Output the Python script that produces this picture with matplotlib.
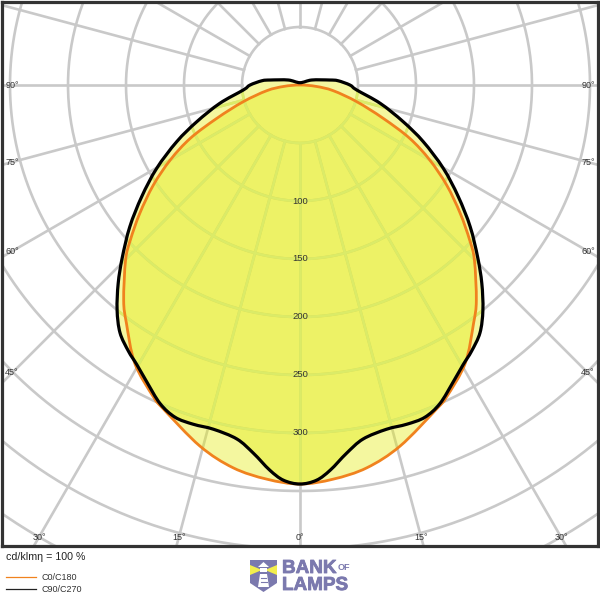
import matplotlib
matplotlib.use('Agg')
import matplotlib.pyplot as plt
import matplotlib.patheffects as pe
from matplotlib.path import Path
from matplotlib.patches import PathPatch, Polygon, Rectangle
import numpy as np

plt.rcParams['font.family'] = ['Liberation Sans', 'DejaVu Sans']

# C0/C180, gamma in degrees and cd/klm
gamma_c0 = [0, 4.8, 9.9, 15.5, 22.9, 25.2, 30.7, 36.1, 39.3, 44.9, 47.6, 51.3, 55.7, 60, 64.1, 68.2, 73.6, 80.3, 85, 90]
i_c0 = [344, 341, 335, 323, 303, 297, 279, 254, 240, 213, 198, 177, 153, 129, 105, 77, 51, 29, 14, 0]

# C90/C270
gamma_c90 = [0, 2.4, 4.5, 7.2, 10.1, 14.1, 17.5, 20.6, 23.7, 27.3, 30.3, 32.8, 36, 39.1, 42.5, 45.8, 50.2, 54.8,
             59.8, 65.3, 70.4, 77.1, 85, 90, 96.4, 99.5, 113, 180]
i_c90 = [344, 341, 333, 320, 310, 306, 306.6, 306, 300, 288, 279, 273, 264, 250, 232, 213.8, 191, 167,
         143, 117, 94.5, 71, 49, 43, 33, 26, 11, 2]

radii = [50, 100, 150, 200, 250, 300, 350, 400, 450, 500]
radial_labels = [100, 150, 200, 250, 300]
angle_labels = [0, 15, 30, 45, 60, 75, 90]

GRID = '#c9c9c9'
GRID_IN = '#dbeb68'
FILL = (228 / 255, 235 / 255, 17 / 255)
ORANGE = '#f0821e'
SCALE = 1.16  # pixels per cd/klm
CX, CY = 300, 85


def closed_curve(gamma, vals):
    g = np.radians(np.array(gamma, dtype=float))
    v = np.array(vals, dtype=float)
    x = v * np.sin(g)
    y = -v * np.cos(g)
    # mirror for the other half
    px = np.concatenate([x, -x[::-1][1:-1]])
    py = np.concatenate([y, y[::-1][1:-1]])
    pts = np.column_stack([px, py])
    n = len(pts)
    verts = [pts[0]]
    codes = [Path.MOVETO]
    for k in range(n):
        p0, p1, p2, p3 = pts[k - 1], pts[k], pts[(k + 1) % n], pts[(k + 2) % n]
        verts += [p1 + (p2 - p0) / 6, p2 - (p3 - p1) / 6, p2]
        codes += [Path.CURVE4] * 3
    return Path(verts, codes)


def draw_grid(ax, color, zorder, clip=None):
    t = np.linspace(0, 2 * np.pi, 500)
    lines = []
    for r in radii:
        lines += ax.plot(r * np.sin(t), r * np.cos(t), color=color, lw=1.9, zorder=zorder)
    for a in range(0, 360, 15):
        ar = np.radians(a)
        lines += ax.plot([50 * np.sin(ar), 700 * np.sin(ar)], [50 * np.cos(ar), 700 * np.cos(ar)],
                         color=color, lw=1.9, zorder=zorder)
    if clip is not None:
        for l in lines:
            l.set_clip_path(clip)


fig = plt.figure(figsize=(6, 6), dpi=100)

# main plot, frame is 2..598 and 2..546 in pixels
ax = fig.add_axes([2 / 600, 54 / 600, 596 / 600, 544 / 600])
ax.set_xlim((2 - CX) / SCALE, (598 - CX) / SCALE)
ax.set_ylim((CY - 546) / SCALE, (CY - 2) / SCALE)
ax.set_xticks([])
ax.set_yticks([])
for s in ax.spines.values():
    s.set_color('#333333')
    s.set_linewidth(2.3)

draw_grid(ax, GRID, 1)

path_c0 = closed_curve(gamma_c0, i_c0)
path_c90 = closed_curve(gamma_c90, i_c90)
ax.add_patch(PathPatch(path_c0, facecolor=FILL, alpha=0.4, edgecolor='none', zorder=2))
p90 = ax.add_patch(PathPatch(path_c90, facecolor=FILL, alpha=0.4, edgecolor='none', zorder=2))
# grid reads greenish and faint where both fills overlap
draw_grid(ax, GRID_IN, 2.5, clip=p90)
ax.add_patch(PathPatch(path_c0, facecolor='none', edgecolor=ORANGE, lw=2.0, joinstyle='round', zorder=3))
ax.add_patch(PathPatch(path_c90, facecolor='none', edgecolor='black', lw=2.3, joinstyle='round', zorder=4))

for v in radial_labels:
    ax.text(0, -v, str(v), ha='center', va='center', fontsize=6.8, color='#333333', zorder=5)

# angle labels sit on the inside of the frame
low = (CY - 537) / SCALE
side = 288 / SCALE
for a in angle_labels:
    if a < 45:
        xs = [0] if a == 0 else [low * np.tan(np.radians(a)), -low * np.tan(np.radians(a))]
        for xv in xs:
            ax.text(xv, low, f'{a}°', ha='center', va='center', fontsize=6.5, color='#333333', zorder=5)
    else:
        yv = -side / np.tan(np.radians(a)) if a < 90 else 0
        for xv in (-side, side):
            ax.text(xv, yv, f'{a}°', ha='center', va='center', fontsize=6.5, color='#333333', zorder=5)

# lower strip in pixel coordinates
low_ax = fig.add_axes([0, 0, 1, 1], facecolor='none')
low_ax.set_xlim(0, 600)
low_ax.set_ylim(600, 0)
low_ax.axis('off')

low_ax.text(6, 557, 'cd/klmη = 100 %', fontsize=7.7, va='center', color='#222222')
low_ax.plot([6, 36], [577, 577], color=ORANGE, lw=0.9)
low_ax.plot([6, 36], [589, 589], color='#222222', lw=0.9)
low_ax.text(42, 578, 'C0/C180', fontsize=6.5, va='center', color='#333333')
low_ax.text(42, 590, 'C90/C270', fontsize=6.5, va='center', color='#333333')

# logo
PURPLE = '#7b79ae'
heavy = [pe.withStroke(linewidth=0.6, foreground=PURPLE)]
low_ax.add_patch(Polygon([(250, 560), (277, 560), (277, 583), (263.5, 592), (250, 583)], color=PURPLE, lw=0))
low_ax.add_patch(Polygon([(250, 565), (262, 570), (250, 575)], color='#f2ee4e', lw=0))
low_ax.add_patch(Polygon([(277, 565), (265, 570), (277, 575)], color='#f2ee4e', lw=0))
low_ax.add_patch(Polygon([(258, 567), (263.5, 562), (269, 567)], color='white', lw=0))
low_ax.add_patch(Rectangle((260, 568), 7, 4, color='white', lw=0))
low_ax.add_patch(Polygon([(260, 574), (267, 574), (269, 587), (258, 587)], color='white', lw=0))
low_ax.plot([261, 266], [578, 578], color=PURPLE, lw=0.8)
low_ax.plot([260.5, 266.5], [582, 582], color=PURPLE, lw=0.8)
low_ax.text(282, 573, 'BANK', fontsize=13.6, fontweight='bold', va='baseline', color=PURPLE, path_effects=heavy)
low_ax.text(338, 570, 'OF', fontsize=6.5, fontweight='bold', va='baseline', color=PURPLE)
low_ax.text(282, 590, 'LAMPS', fontsize=13.6, fontweight='bold', va='baseline', color=PURPLE, path_effects=heavy)

plt.savefig('out.png', dpi=100)
plt.close()
